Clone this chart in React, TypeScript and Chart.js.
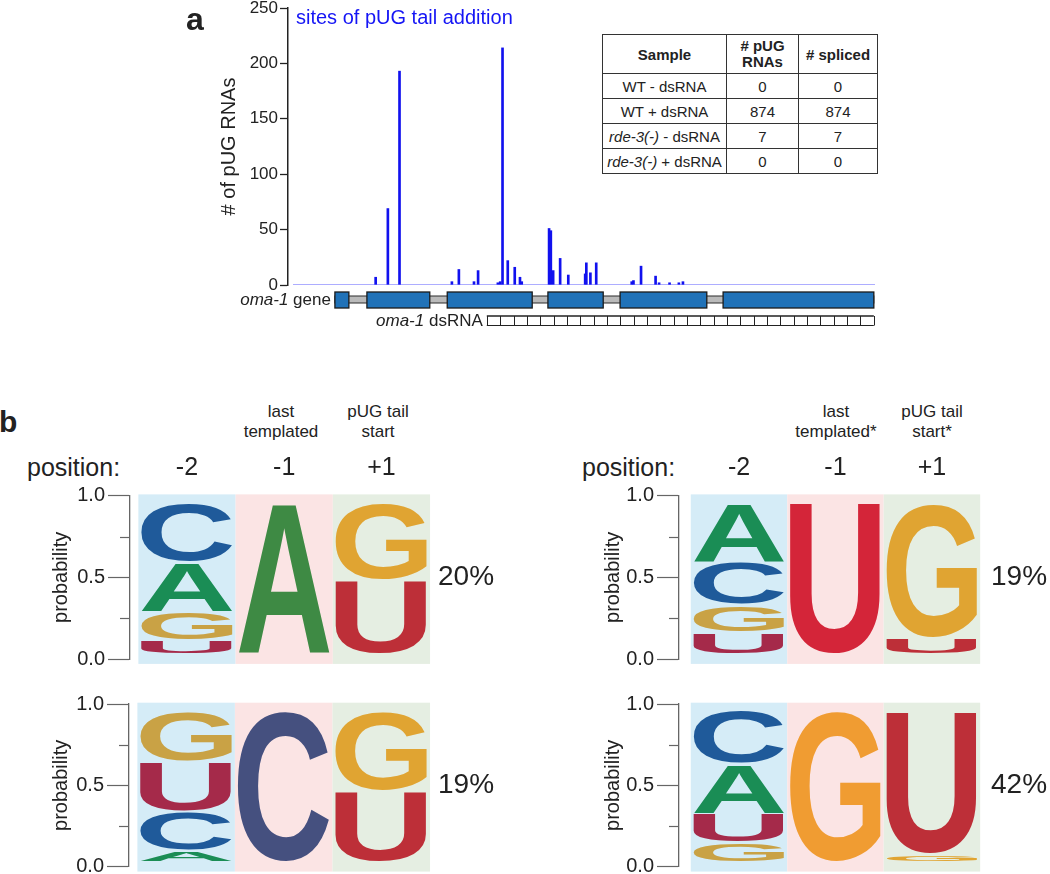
import React, { useEffect, useRef } from 'react';
import { Chart, registerables } from 'chart.js';

Chart.register(...registerables);

const FONT = '"Liberation Sans", Arial, Helvetica, sans-serif';
const INK = '#222222';

// ---------------- panel a: sites of pUG tail addition ----------------
const siteAxisMin = 0;
const siteAxisMax = 1000;
const sitePositions = [142, 163, 183, 273, 285, 311, 318, 352, 356, 360, 369, 381, 390, 393, 440, 443, 447, 459, 473, 502, 504, 511, 521, 582, 585, 598, 623, 629, 647, 663, 670];
const siteCounts = [7, 69, 193, 3, 14, 3, 13, 2, 3, 214, 22, 16, 7, 3, 51, 49, 13, 24, 9, 10, 20, 11, 20, 3, 4, 17, 8, 2, 2, 2, 3];
const countAxisMax = 250;
const countTickStep = 50;

// gene model (same coordinate as sites)
const exonStarts = [72, 127, 265, 438, 562, 739];
const exonEnds = [96, 235, 411, 533, 711, 998];
const dsRnaStart = 333;
const dsRnaEnd = 998;
const dsRnaUnits = 29;

// table
const tableSamples = ['WT - dsRNA', 'WT + dsRNA', 'rde-3(-) - dsRNA', 'rde-3(-) + dsRNA'];
const tablePugRnas = [0, 874, 7, 0];
const tableSpliced = [0, 874, 7, 0];

// ---------------- panel b: logos ----------------
const LETTERS = ['A', 'C', 'G', 'U'];
const positionLabels = ['-2', '-1', '+1'];
const positionValues = [0, 1, 2];

const logo1A = [0.33, 1.0, 0.0];
const logo1C = [0.39, 0.0, 0.0];
const logo1G = [0.19, 0.0, 0.51];
const logo1U = [0.09, 0.0, 0.49];

const logo2A = [0.39, 0.0, 0.0];
const logo2C = [0.285, 0.0, 0.0];
const logo2G = [0.18, 0.0, 0.89];
const logo2U = [0.145, 1.0, 0.11];

const logo3A = [0.075, 0.0, 0.0];
const logo3C = [0.26, 1.0, 0.0];
const logo3G = [0.333, 0.0, 0.53];
const logo3U = [0.332, 0.0, 0.47];

const logo4A = [0.33, 0.0, 0.0];
const logo4C = [0.35, 0.0, 0.0];
const logo4G = [0.13, 1.0, 0.05];
const logo4U = [0.19, 0.0, 0.95];

const logoPercents = ['20%', '19%', '19%', '42%'];

const columnBackgrounds = ['#d5ecf7', '#fbe4e4', '#e5eee2'];
const letterColors: any[] = [
  { A: '#1a8d55', C: '#1f5a9a', G: '#c9a245', U: '#a52a4a' },
  { A: '#3e8a44', C: '#45507f', G: '#f09c32', U: '#d42539' },
  { A: '#2a8f4a', C: '#1f5a9a', G: '#e0a432', U: '#bd2f38' },
];
const STACK_LO = 0.03;
const STACK_HI = 0.955;

function drawGlyph(ctx: CanvasRenderingContext2D, ch: string, color: string, x0: number, y0: number, x1: number, y1: number) {
  ctx.save();
  ctx.font = `bold 100px ${FONT}`;
  ctx.textAlign = 'left';
  ctx.textBaseline = 'alphabetic';
  const m = ctx.measureText(ch);
  const gw = m.actualBoundingBoxLeft + m.actualBoundingBoxRight;
  const gh = m.actualBoundingBoxAscent + m.actualBoundingBoxDescent;
  ctx.translate(x0, y0);
  ctx.scale((x1 - x0) / gw, (y1 - y0) / gh);
  ctx.fillStyle = color;
  ctx.fillText(ch, m.actualBoundingBoxLeft, m.actualBoundingBoxAscent);
  ctx.restore();
}

function drawMixed(ctx: CanvasRenderingContext2D, parts: [string, boolean][], rightX: number, midY: number, size: number) {
  const widths = parts.map(([t, it]) => {
    ctx.font = `${it ? 'italic ' : ''}${size}px ${FONT}`;
    return ctx.measureText(t).width;
  });
  let x = rightX - widths.reduce((a, b) => a + b, 0);
  ctx.textAlign = 'left';
  ctx.textBaseline = 'middle';
  ctx.fillStyle = INK;
  parts.forEach(([t, it], i) => {
    ctx.font = `${it ? 'italic ' : ''}${size}px ${FONT}`;
    ctx.fillText(t, x, midY);
    x += widths[i];
  });
}

const genePlugin = {
  id: 'geneModel',
  afterDraw(chart: any) {
    const { ctx, chartArea } = chart;
    const xs = chart.scales.x;
    const b = chartArea.bottom;
    const px = (v: number) => xs.getPixelForValue(v);
    ctx.save();
    // intron backbone
    const gx0 = px(exonStarts[0]);
    const gx1 = px(exonEnds[exonEnds.length - 1]);
    ctx.fillStyle = '#bababa';
    ctx.strokeStyle = '#2a2a2a';
    ctx.lineWidth = 1;
    ctx.fillRect(gx0, b + 11, gx1 - gx0, 7);
    ctx.strokeRect(gx0, b + 11, gx1 - gx0, 7);
    // exons
    ctx.lineWidth = 1.3;
    exonStarts.forEach((s, i) => {
      const x0 = px(s);
      const x1 = px(exonEnds[i]);
      ctx.fillStyle = '#2072b8';
      ctx.fillRect(x0, b + 7, x1 - x0, 16);
      ctx.strokeStyle = '#1b1b1b';
      ctx.strokeRect(x0, b + 7, x1 - x0, 16);
    });
    // dsRNA ladder
    const d0 = px(dsRnaStart);
    const d1 = px(dsRnaEnd);
    ctx.strokeStyle = INK;
    ctx.lineWidth = 1.5;
    ctx.beginPath();
    ctx.moveTo(d0, b + 31);
    ctx.lineTo(d1, b + 31);
    ctx.stroke();
    ctx.lineWidth = 1;
    ctx.beginPath();
    ctx.moveTo(d0, b + 40.5);
    ctx.lineTo(d1, b + 40.5);
    for (let k = 0; k <= dsRnaUnits; k++) {
      const v = dsRnaStart + ((dsRnaEnd - dsRnaStart) * k) / dsRnaUnits;
      const x = Math.round(px(v)) + 0.5;
      ctx.moveTo(x, b + 31);
      ctx.lineTo(x, b + 40.5);
    }
    ctx.stroke();
    // labels
    drawMixed(ctx, [['oma-1', true], [' gene', false]], gx0 - 4, b + 15, 17);
    drawMixed(ctx, [['oma-1', true], [' dsRNA', false]], d0 - 4, b + 36, 17);
    ctx.restore();
  },
};

function ChartCanvas({ left, top, width, height, build }: any) {
  const ref = useRef<HTMLCanvasElement>(null);
  useEffect(() => {
    const chart = new Chart(ref.current as HTMLCanvasElement, build());
    return () => chart.destroy();
  }, []);
  return (
    <canvas
      ref={ref}
      width={width}
      height={height}
      style={{ position: 'absolute', left, top, width, height }}
    />
  );
}

function buildSitesChart(): any {
  return {
    type: 'bar',
    data: {
      datasets: [
        {
          type: 'line',
          label: 'baseline',
          data: [{ x: siteAxisMin, y: 0 }, { x: siteAxisMax, y: 0 }],
          borderColor: '#5a5aff',
          borderWidth: 1,
          pointRadius: 0,
          order: 0,
        },
        {
          type: 'bar',
          label: 'sites of pUG tail addition',
          data: sitePositions.map((x, i) => ({ x, y: siteCounts[i] })),
          backgroundColor: '#1111ee',
          barThickness: 2,
          order: 1,
        },
      ],
    },
    options: {
      responsive: false,
      animation: false,
      layout: { padding: { left: 0, right: 5, top: 8, bottom: 55 } },
      plugins: { legend: { display: false }, tooltip: { enabled: false } },
      scales: {
        x: { type: 'linear', min: -8.6, max: siteAxisMax, display: false, offset: false },
        y: {
          type: 'linear',
          min: 0,
          max: countAxisMax,
          ticks: { stepSize: countTickStep, font: { family: FONT, size: 17 }, color: INK, padding: 2 },
          grid: { drawOnChartArea: false, tickLength: 8, tickColor: INK, tickWidth: 1.3 },
          border: { color: INK, width: 1.5 },
          title: {
            display: true,
            text: '# of pUG RNAs',
            font: { family: FONT, size: 20 },
            color: INK,
            padding: { top: 37, bottom: 0 },
          },
          afterFit: (s: any) => {
            s.width = 108;
            s.paddingTop = 0;
            s.paddingBottom = 0;
          },
        },
      },
    },
    plugins: [genePlugin],
  };
}

function buildLogoChart(spec: any): any {
  const probs = [spec.A, spec.C, spec.G, spec.U];
  const stacks = positionValues.map((_, j) => {
    const items = LETTERS.map((l, k) => ({ letter: l, p: probs[k][j], k }));
    items.sort((a, b) => a.p - b.p || b.k - a.k);
    return items;
  });
  const datasets = [0, 1, 2, 3].map((r) => ({
    label: 'rank ' + r,
    data: positionValues.map((x, j) => ({ x, y: stacks[j][r].p })),
    letters: positionValues.map((_, j) => stacks[j][r].letter),
    backgroundColor: 'rgba(0,0,0,0)',
    borderWidth: 0,
    barPercentage: 0.94,
    categoryPercentage: 1,
  }));
  const logoPlugin = {
    id: 'logoLetters',
    beforeDatasetsDraw(chart: any) {
      const { ctx } = chart;
      const xs = chart.scales.x;
      const ys = chart.scales.y;
      ctx.save();
      positionValues.forEach((v, j) => {
        const x0 = xs.getPixelForValue(v - 0.5);
        const x1 = xs.getPixelForValue(v + 0.5);
        const yt = ys.getPixelForValue(1.008);
        const yb = ys.getPixelForValue(-0.03);
        ctx.fillStyle = columnBackgrounds[j];
        ctx.fillRect(x0, yt, x1 - x0, yb - yt);
      });
      ctx.restore();
    },
    afterDatasetsDraw(chart: any) {
      const { ctx } = chart;
      const ys = chart.scales.y;
      const sets = chart.data.datasets;
      positionValues.forEach((_, j) => {
        let cum = 0;
        for (let r = 0; r < sets.length; r++) {
          const p = sets[r].data[j].y;
          const letter = sets[r].letters[j];
          const lo = cum;
          cum += p;
          if (p <= 0.001) continue;
          const el = chart.getDatasetMeta(r).data[j];
          const span = STACK_HI - STACK_LO;
          const yb = ys.getPixelForValue(STACK_LO + lo * span);
          const yt = ys.getPixelForValue(STACK_LO + cum * span);
          const gap = Math.min(1, (yb - yt) / 4);
          drawGlyph(ctx, letter, letterColors[j][letter], el.x - el.width / 2, yt + gap, el.x + el.width / 2, yb - gap);
        }
      });
    },
    afterDraw(chart: any) {
      const { ctx, chartArea } = chart;
      const ys = chart.scales.y;
      ctx.save();
      ctx.strokeStyle = '#666';
      ctx.lineWidth = 1.2;
      [0.25, 0.75].forEach((v) => {
        const y = Math.round(ys.getPixelForValue(v)) + 0.5;
        ctx.beginPath();
        ctx.moveTo(chartArea.left - 10, y);
        ctx.lineTo(chartArea.left, y);
        ctx.stroke();
      });
      ctx.font = `28px ${FONT}`;
      ctx.fillStyle = INK;
      ctx.textAlign = 'left';
      ctx.textBaseline = 'middle';
      ctx.fillText(spec.percent, chartArea.right + 6, ys.getPixelForValue(0.5));
      ctx.restore();
    },
  };
  return {
    type: 'bar',
    data: { datasets },
    options: {
      responsive: false,
      animation: false,
      layout: { padding: { left: 0, right: spec.padRight, top: spec.padTop, bottom: spec.padBottom } },
      plugins: { legend: { display: false }, tooltip: { enabled: false } },
      scales: {
        x: {
          type: 'linear',
          position: 'top',
          min: spec.xMin,
          max: spec.xMax,
          stacked: true,
          offset: false,
          display: spec.showPositions,
          grid: { display: false, drawTicks: false, offset: false },
          border: { display: false },
          ticks: {
            font: { family: FONT, size: 25 },
            color: INK,
            padding: 12.7,
            maxRotation: 0,
            autoSkip: false,
            callback: (_v: any, i: number) => positionLabels[i],
          },
          afterBuildTicks: (s: any) => {
            s.ticks = positionValues.map((v) => ({ value: v }));
          },
          afterFit: (s: any) => {
            s.height = spec.xAxisH;
            s.paddingLeft = 0;
            s.paddingRight = 0;
          },
        },
        y: {
          type: 'linear',
          min: 0,
          max: 1,
          stacked: true,
          ticks: {
            stepSize: 0.5,
            font: { family: FONT, size: 20 },
            color: INK,
            padding: 3,
            callback: (v: number) => v.toFixed(1),
          },
          grid: { drawOnChartArea: false, drawTicks: true, tickLength: 22, tickColor: '#666', tickWidth: 1.2 },
          border: { display: true, color: '#666', width: 1.3 },
          title: {
            display: true,
            text: 'probability',
            font: { family: FONT, size: 20 },
            color: INK,
            padding: { top: spec.titlePad, bottom: 0 },
          },
          afterFit: (s: any) => {
            s.width = spec.yAxisW;
            s.paddingTop = 0;
            s.paddingBottom = 0;
          },
        },
      },
    },
    plugins: [logoPlugin],
  };
}

const logoSpecs = [
  { A: logo1A, C: logo1C, G: logo1G, U: logo1U, percent: logoPercents[0], showPositions: true,
    left: 30, top: 440, width: 490, height: 232, yAxisW: 100, xAxisH: 55.7, padTop: 0, padBottom: 13, padRight: 88,
    xMin: -0.586, xMax: 2.52, titlePad: 19 },
  { A: logo2A, C: logo2C, G: logo2G, U: logo2U, percent: logoPercents[1], showPositions: true,
    left: 580, top: 440, width: 470, height: 232, yAxisW: 99, xAxisH: 55.7, padTop: 0, padBottom: 13, padRight: 65,
    xMin: -0.622, xMax: 2.55, titlePad: 21 },
  { A: logo3A, C: logo3C, G: logo3G, U: logo3U, percent: logoPercents[2], showPositions: false,
    left: 30, top: 690, width: 490, height: 190, yAxisW: 99, xAxisH: 0, padTop: 14, padBottom: 13.3, padRight: 88,
    xMin: -0.586, xMax: 2.52, titlePad: 19 },
  { A: logo4A, C: logo4C, G: logo4G, U: logo4U, percent: logoPercents[3], showPositions: false,
    left: 580, top: 690, width: 470, height: 190, yAxisW: 99, xAxisH: 0, padTop: 14, padBottom: 13.3, padRight: 65,
    xMin: -0.622, xMax: 2.55, titlePad: 21 },
];

function renderSample(s: string) {
  const m = s.match(/^(rde-3\(-\))(.*)$/);
  if (m) {
    return (
      <>
        <i>{m[1]}</i>
        {m[2]}
      </>
    );
  }
  return s;
}

function SampleTable() {
  const cell: any = {
    border: '1px solid #333',
    textAlign: 'center',
    padding: 0,
    verticalAlign: 'middle',
    fontFamily: FONT,
    fontSize: '15px',
    color: INK,
    lineHeight: '17px',
  };
  const head: any = { ...cell, fontWeight: 'bold' };
  return (
    <table
      style={{
        position: 'absolute',
        left: 602,
        top: 34,
        borderCollapse: 'collapse',
        tableLayout: 'fixed',
        width: 275,
        fontFamily: FONT,
        fontSize: '15px',
        color: INK,
        background: '#fff',
      }}
    >
      <colgroup>
        <col style={{ width: 124 }} />
        <col style={{ width: 72 }} />
        <col style={{ width: 79 }} />
      </colgroup>
      <thead>
        <tr style={{ height: 39 }}>
          <th style={head}>Sample</th>
          <th style={{ ...head, lineHeight: '16px' }}>
            # pUG
            <br />
            RNAs
          </th>
          <th style={head}># spliced</th>
        </tr>
      </thead>
      <tbody>
        {tableSamples.map((s, i) => (
          <tr key={s} style={{ height: 25 }}>
            <td style={{ ...cell, whiteSpace: 'nowrap' }}>{renderSample(s)}</td>
            <td style={cell}>{tablePugRnas[i]}</td>
            <td style={cell}>{tableSpliced[i]}</td>
          </tr>
        ))}
      </tbody>
    </table>
  );
}

function Txt({ left, top, size, bold, color, children, center, lh }: any) {
  const style: any = {
    position: 'absolute',
    top,
    fontFamily: FONT,
    fontSize: size,
    fontWeight: bold ? 'bold' : 'normal',
    color: color || INK,
    lineHeight: `${lh || size}px`,
    whiteSpace: 'nowrap',
  };
  if (center !== undefined) {
    style.left = center - 100;
    style.width = 200;
    style.textAlign = 'center';
  } else {
    style.left = left;
  }
  return <div style={style}>{children}</div>;
}

export default function App() {
  return (
    <div style={{ position: 'absolute', left: 0, top: 0, width: 1050, height: 874, overflow: 'hidden', background: '#fff' }}>
      <ChartCanvas left={180} top={0} width={700} height={340} build={buildSitesChart} />
      <Txt left={186} top={3} size={32} bold>a</Txt>
      <Txt left={296} top={7} size={20} color="#1515f5">sites of pUG tail addition</Txt>
      <SampleTable />

      <Txt left={-1} top={406.6} size={30} bold>b</Txt>
      <Txt center={281} top={401.75} size={17} lh={20.5}>last<br />templated</Txt>
      <Txt center={378} top={401.75} size={17} lh={20.5}>pUG tail<br />start</Txt>
      <Txt center={836} top={401.75} size={17} lh={20.5}>last<br />templated*</Txt>
      <Txt center={932} top={401.75} size={17} lh={20.5}>pUG tail<br />start*</Txt>
      <Txt left={27} top={452} size={25} lh={30}>position:</Txt>
      <Txt left={582} top={452} size={25} lh={30}>position:</Txt>

      {logoSpecs.map((spec, i) => (
        <ChartCanvas
          key={i}
          left={spec.left}
          top={spec.top}
          width={spec.width}
          height={spec.height}
          build={() => buildLogoChart(spec)}
        />
      ))}
    </div>
  );
}
